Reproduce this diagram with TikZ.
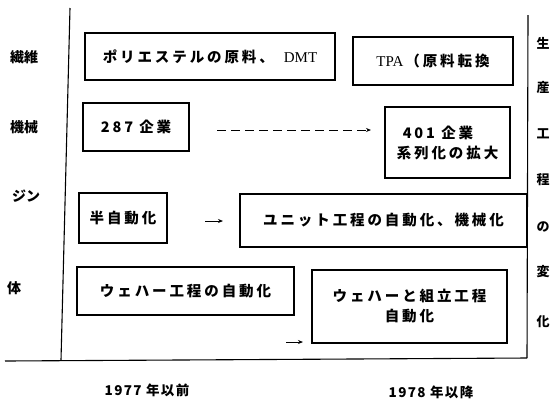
\documentclass[tikz,border=0pt]{standalone}
\usepackage{fontspec}
\setmainfont{Noto Sans CJK JP}
\newfontfamily\serifjp{Liberation Serif}
\newfontfamily\spjp[LetterSpace=20]{Noto Sans CJK JP}
\newfontfamily\spjpb[LetterSpace=10]{Noto Sans CJK JP}
\usetikzlibrary{arrows.meta}
\tikzset{
  box/.style={draw, line width=1.1bp, inner sep=0pt, font=\spjp\fontsize{14.5bp}{20bp}\selectfont\bfseries},
  lab/.style={font=\fontsize{14bp}{16bp}\selectfont\bfseries, inner sep=0pt},
  rlab/.style={font=\fontsize{13bp}{15bp}\selectfont\bfseries, inner sep=0pt},
  yr/.style={font=\spjpb\fontsize{13.5bp}{16bp}\selectfont\bfseries, inner sep=0pt},
  axis/.style={line width=1.1bp},
  arr/.style={line width=1bp, -{Stealth[length=5bp,width=4bp]}}
}
\begin{document}
\begin{tikzpicture}[x=1bp,y=-1bp]
\useasboundingbox (0,0) rectangle (552,400);
% axes
\coordinate (lt) at (70,8);
\coordinate (lb) at (61,360);
\coordinate (rt) at (528,15);
\coordinate (rb) at (527,358);
\coordinate (bl) at (5,361);
\draw[axis] (lt) -- (lb);
\draw[axis] (rt) -- (rb);
\draw[axis] (bl) -- (rb);
% boxes
\node[box, minimum width=250bp, minimum height=47bp] (b1) at (210,56.5) {ポリエステルの原料、\hspace{10bp}{\serifjp\mdseries\fontsize{15bp}{18bp}\selectfont DMT}};
\node[box, minimum width=160bp, minimum height=48bp] (b2) at (433,61) {{\serifjp\mdseries\fontsize{15bp}{18bp}\selectfont TPA}\hspace{2bp}（原料転換};
\node[box, minimum width=106bp, minimum height=48bp] (b3) at (136,127) {287 企業};
\node[box, minimum width=125bp, minimum height=71bp, align=left] (b4) at (447.5,142.5) {\hspace{6bp}401 企業\\系列化の拡大};
\node[box, minimum width=88bp, minimum height=50bp] (b5) at (123,218) {半自動化};
\node[box, minimum width=287bp, minimum height=53bp] (b6) at (383.5,220.5) {ユニット工程の自動化、機械化};
\node[box, minimum width=217bp, minimum height=48bp] (b7) at (185.5,291) {ウェハー工程の自動化};
\node[box, minimum width=195bp, minimum height=73bp, align=center] (b8) at (409.5,306.5) {ウェハーと組立工程\\自動化};
% arrows
\coordinate (d1) at (217,130);
\coordinate (d2) at (371,130);
\draw[arr, dash pattern=on 9bp off 5bp] (d1) -- (d2);
\coordinate (a1) at (205,221);
\coordinate (a2) at (223,221);
\draw[arr] (a1) -- (a2);
\coordinate (c1) at (286,342);
\coordinate (c2) at (303,342);
\draw[arr] (c1) -- (c2);
% left labels
\node[lab, anchor=west] (l1) at (10,57) {繊維};
\node[lab, anchor=west] (l2) at (10,127) {機械};
\node[lab, anchor=west] (l3) at (12,196) {ジン};
\node[lab, anchor=west] (l4) at (7,288) {体};
% right labels
\node[rlab] (r1) at (543,43) {生};
\node[rlab] (r2) at (543,88) {産};
\node[rlab] (r3) at (543,134) {工};
\node[rlab] (r4) at (543,180) {程};
\node[rlab] (r5) at (543,227) {の};
\node[rlab] (r6) at (543,272) {変};
\node[rlab] (r7) at (543,322) {化};
% bottom labels
\node[yr] (t1) at (147,390) {1977 年以前};
\node[yr] (t2) at (431,392) {1978 年以降};
\end{tikzpicture}
\end{document}
